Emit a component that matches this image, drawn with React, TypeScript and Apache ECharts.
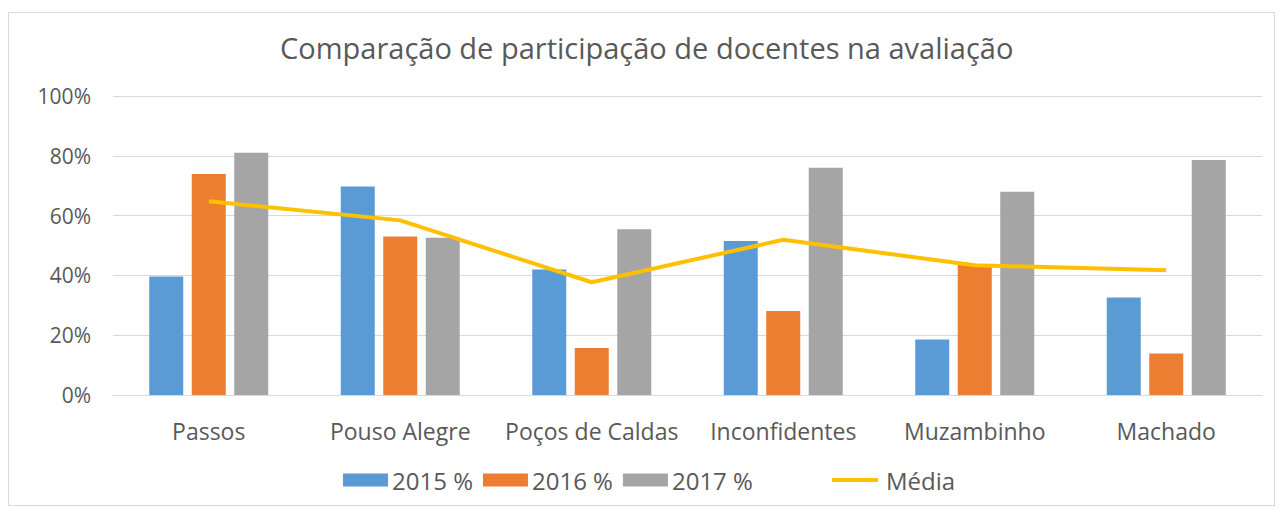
import React, { useEffect, useRef } from "react";
import * as echarts from "echarts";

const categories = ["Passos", "Pouso Alegre", "Poços de Caldas", "Inconfidentes", "Muzambinho", "Machado"];
const values2015 = [0.396, 0.697, 0.42, 0.515, 0.186, 0.326];
const values2016 = [0.739, 0.53, 0.157, 0.281, 0.435, 0.139];
const values2017 = [0.81, 0.526, 0.554, 0.76, 0.68, 0.786];
const valuesMedia = [0.648, 0.584, 0.377, 0.519, 0.434, 0.417];
const seriesNames = ["2015 %", "2016 %", "2017 %", "Média"];
const titleText = "Comparação de participação de docentes na avaliação";

const FONT = "Open Sans";
const TEXT = "#595959";

export default function App() {
  const ref = useRef<HTMLDivElement>(null);
  useEffect(() => {
    if (!ref.current) return;
    const chart = echarts.init(ref.current, undefined, { renderer: "svg" });
    chart.setOption({
      animation: false,
      backgroundColor: "#ffffff",
      title: {
        text: titleText,
        left: 266,
        top: 15,
        textStyle: { fontFamily: FONT, fontSize: 29, fontWeight: "normal", color: TEXT },
      },
      legend: [
        {
          data: seriesNames.slice(0, 3).map((n) => ({ name: n, icon: "rect" })),
          left: 329,
          top: 450,
          itemWidth: 45,
          itemHeight: 13,
          itemGap: 10,
          textStyle: { fontFamily: FONT, fontSize: 24, color: TEXT, padding: [0, 0, 0, -1] },
        },
        {
          data: [{ name: seriesNames[3], icon: "rect" }],
          left: 818,
          top: 450,
          itemWidth: 46,
          itemHeight: 4,
          textStyle: { fontFamily: FONT, fontSize: 24, color: TEXT, padding: [0, 0, 0, 3] },
        },
      ],
      grid: { left: 104, right: 12, top: 83, bottom: 110, containLabel: false },
      xAxis: {
        type: "category",
        data: categories,
        axisLine: { show: true, lineStyle: { color: "#D9D9D9", width: 1 } },
        axisTick: { show: false },
        axisLabel: { fontFamily: FONT, fontSize: 23, color: TEXT, margin: 24, interval: 0 },
      },
      yAxis: {
        type: "value",
        min: 0,
        max: 1,
        interval: 0.2,
        axisLine: { show: false },
        axisTick: { show: false },
        splitLine: { lineStyle: { color: "#D9D9D9", width: 1 } },
        axisLabel: {
          fontFamily: FONT,
          fontSize: 21,
          color: TEXT,
          margin: 22,
          formatter: (v: number) => `${Math.round(v * 100)}%`,
        },
      },
      series: [
        { name: seriesNames[0], type: "bar", data: values2015, barWidth: 34, barGap: "25%", itemStyle: { color: "#5B9BD5" } },
        { name: seriesNames[1], type: "bar", data: values2016, barWidth: 34, barGap: "25%", itemStyle: { color: "#ED7D31" } },
        { name: seriesNames[2], type: "bar", data: values2017, barWidth: 34, barGap: "25%", itemStyle: { color: "#A5A5A5" } },
        {
          name: seriesNames[3],
          type: "line",
          data: valuesMedia,
          symbol: "none",
          lineStyle: { color: "#FFC000", width: 4 },
          itemStyle: { color: "#FFC000" },
        },
      ],
    });
    return () => chart.dispose();
  }, []);
  return (
    <div
      style={{
        position: "absolute",
        left: 8,
        top: 12,
        width: 1267,
        height: 494,
        border: "1px solid #D9D9D9",
        boxSizing: "border-box",
        background: "#fff",
      }}
    >
      <div ref={ref} style={{ width: 1265, height: 492 }} />
    </div>
  );
}
